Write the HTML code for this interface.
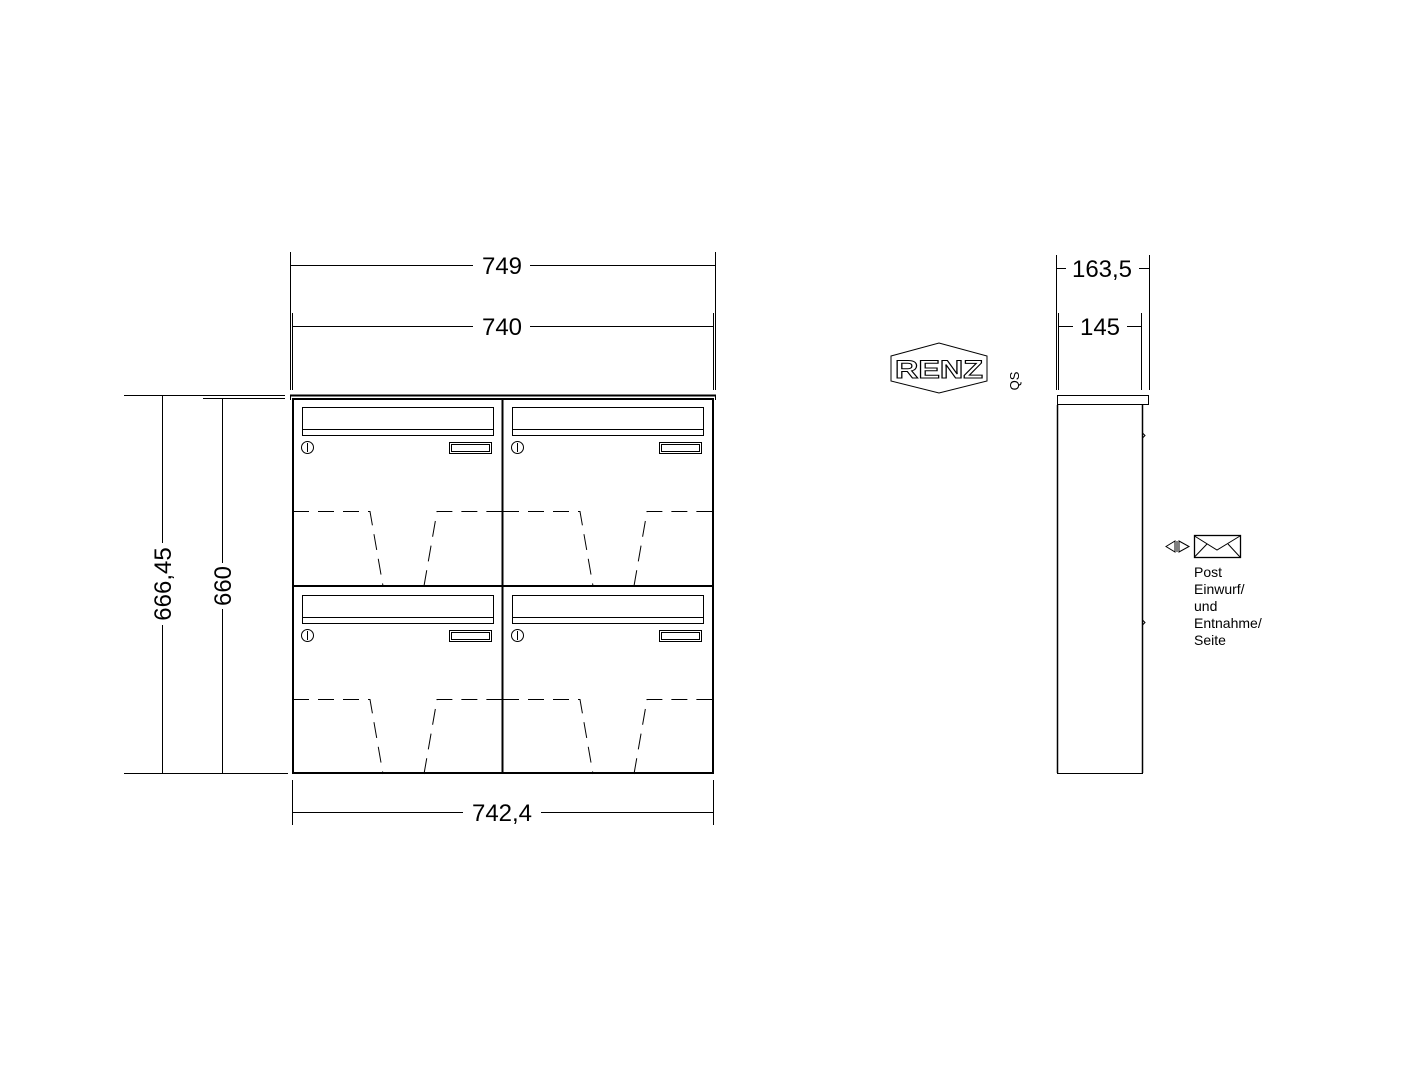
<!DOCTYPE html>
<html><head><meta charset="utf-8"><style>
html,body{margin:0;padding:0;background:#fff;}
svg{display:block;}
text{font-family:"Liberation Sans",Arial,sans-serif;fill:#000;}
</style></head><body>
<svg width="1401" height="1076" viewBox="0 0 1401 1076" xmlns="http://www.w3.org/2000/svg">
<rect width="1401" height="1076" fill="#fff"/>
<g stroke="#000" fill="none" stroke-width="1">
<!-- dimension 749 -->
<line x1="290.5" y1="252" x2="290.5" y2="390"/>
<line x1="715.5" y1="252" x2="715.5" y2="390"/>
<line x1="290.5" y1="265.5" x2="473" y2="265.5"/>
<line x1="530" y1="265.5" x2="715.5" y2="265.5"/>
<!-- 740 -->
<line x1="292.5" y1="313" x2="292.5" y2="390"/>
<line x1="713.5" y1="313" x2="713.5" y2="390"/>
<line x1="292.5" y1="326.5" x2="473" y2="326.5"/>
<line x1="530" y1="326.5" x2="713.5" y2="326.5"/>
<!-- 742,4 -->
<line x1="292.5" y1="780" x2="292.5" y2="825"/>
<line x1="713.5" y1="780" x2="713.5" y2="825"/>
<line x1="292.5" y1="812.5" x2="463" y2="812.5"/>
<line x1="541" y1="812.5" x2="713.5" y2="812.5"/>
<!-- vertical dims -->
<line x1="124" y1="395.5" x2="285" y2="395.5"/>
<line x1="203" y1="398.5" x2="285" y2="398.5"/>
<line x1="124" y1="773.5" x2="288" y2="773.5"/>
<line x1="162.5" y1="395.5" x2="162.5" y2="543"/>
<line x1="162.5" y1="625" x2="162.5" y2="773.5"/>
<line x1="222.5" y1="398.5" x2="222.5" y2="563"/>
<line x1="222.5" y1="609" x2="222.5" y2="773.5"/>
<!-- cap -->
<line x1="290" y1="395.5" x2="716" y2="395.5" stroke-width="2"/>
<line x1="290.5" y1="395" x2="290.5" y2="400"/>
<line x1="715.5" y1="395" x2="715.5" y2="400"/>
</g>
<g stroke="#000" fill="none" stroke-width="2">
<rect x="293" y="399" width="420" height="374"/>
<line x1="502.5" y1="399" x2="502.5" y2="773"/>
<line x1="293" y1="586" x2="713" y2="586"/>
</g>
<g stroke="#000" fill="none" stroke-width="1">
<!-- cells -->
<g id="c1">
<rect x="302.5" y="407.5" width="191" height="28"/>
<line x1="302.5" y1="429.5" x2="493.5" y2="429.5"/>
<circle cx="307.5" cy="447.5" r="6"/>
<line x1="307.5" y1="443" x2="307.5" y2="452"/>
<rect x="449.5" y="442.5" width="42" height="11"/>
<rect x="451.5" y="444.5" width="38" height="7"/>
<path d="M293 511.5H370L383 586M424 586L437 511.5H502" stroke-dasharray="16,9"/>
</g>
<use href="#c1" x="210"/>
<use href="#c1" y="188"/>
<use href="#c1" x="210" y="188"/>
<!-- side view -->
<line x1="1056.5" y1="255" x2="1056.5" y2="390"/>
<line x1="1149.5" y1="255" x2="1149.5" y2="390"/>
<line x1="1056.5" y1="268.5" x2="1066" y2="268.5"/>
<line x1="1139" y1="268.5" x2="1149.5" y2="268.5"/>
<line x1="1058.5" y1="313" x2="1058.5" y2="390"/>
<line x1="1141.5" y1="313" x2="1141.5" y2="390"/>
<line x1="1058.5" y1="326.5" x2="1073" y2="326.5"/>
<line x1="1127" y1="326.5" x2="1141.5" y2="326.5"/>
<rect x="1057.5" y="395.5" width="91" height="9"/>
<line x1="1057.5" y1="405" x2="1057.5" y2="773" stroke-width="1.5"/>
<line x1="1142.5" y1="405" x2="1142.5" y2="773" stroke-width="1.5"/>
<line x1="1057" y1="773.5" x2="1143" y2="773.5"/>
<path d="M1142.5 433L1145 435.5L1142.5 438"/>
<path d="M1142.5 620L1145 622.5L1142.5 625"/>
<!-- envelope -->
<rect x="1194.5" y="535.5" width="46" height="22" stroke-width="1.3"/>
<path d="M1194.5 536L1217 550L1240 536M1194.5 557L1207 544M1240 557L1228 544"/>
<path d="M1166 546.5L1175 541V552Z"/>
<path d="M1177 541V552M1179 541L1189 546.5L1179 552Z"/>
<!-- logo -->
<path d="M891 356L939 343L987 356V381L939 393L891 381Z"/>
</g>
<g font-size="24">
<text x="502" y="274" text-anchor="middle">749</text>
<text x="502" y="335" text-anchor="middle">740</text>
<text x="502" y="821" text-anchor="middle">742,4</text>
<text x="1102" y="277" text-anchor="middle">163,5</text>
<text x="1100" y="335" text-anchor="middle">145</text>
<text transform="translate(171,584) rotate(-90)" text-anchor="middle">666,45</text>
<text transform="translate(231,586) rotate(-90)" text-anchor="middle">660</text>
</g>
<text x="939" y="378" text-anchor="middle" font-size="25" font-weight="bold" fill="#fff" stroke="#000" stroke-width="1" style="fill:#fff" textLength="88" lengthAdjust="spacingAndGlyphs">RENZ</text>
<text transform="translate(1019,381) rotate(-90)" text-anchor="middle" font-size="13">QS</text>
<g font-size="14">
<text x="1194" y="577">Post</text>
<text x="1194" y="594">Einwurf/</text>
<text x="1194" y="611">und</text>
<text x="1194" y="628">Entnahme/</text>
<text x="1194" y="645">Seite</text>
</g>
</svg>
</body></html>
